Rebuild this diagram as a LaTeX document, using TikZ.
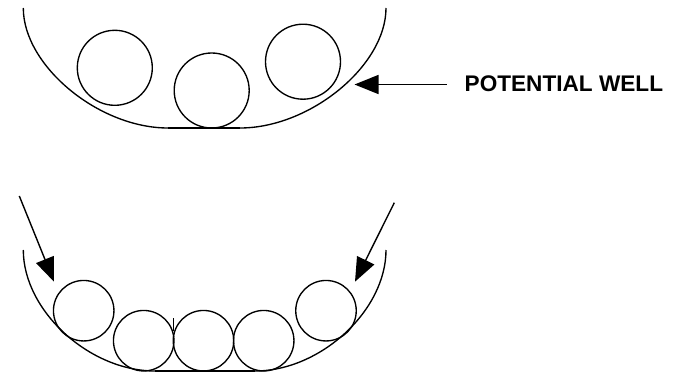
\documentclass[tikz,border=0pt]{standalone}
\usepackage{fontspec}
\setmainfont{Liberation Sans}
\usetikzlibrary{arrows.meta}
\begin{document}
\begin{tikzpicture}[x=1pt,y=-1pt,
  ball/.style={circle,draw,line width=1.35pt,inner sep=0pt,minimum size=#1},
  ball/.default=75pt,
  well/.style={line width=1.35pt},
  floor/.style={line width=1.6pt},
  pointer/.style={line width=1.4pt,-{Triangle[length=24pt,width=19pt]}}]
\useasboundingbox (0,0) rectangle (683,372);
% top well
\draw[well] (23.3,8) .. controls (23.3,65.6) and (98.5,128) .. (168,128)
  -- (240,128) .. controls (310.1,128) and (386,65.6) .. (386,8);
\draw[floor] (168,127.7) -- (240,127.7);
\node[ball] (t1) at (114.8,67.8) {};
\node[ball] (t2) at (211.7,90.5) {};
\node[ball] (t3) at (303,61.7) {};
% label and arrow
\node[anchor=base west,inner sep=0pt,font=\bfseries\fontsize{22.6pt}{24pt}\selectfont] (lbl) at (464.5,91.7) {POTENTIAL WELL};
\coordinate (lstart) at (446.7,84.5);
\coordinate (ltip) at (354.5,84.5);
\draw[pointer] (lstart) -- (ltip);
% bottom well
\draw[well] (23.3,250) .. controls (23.3,310.5) and (89.1,371) .. (155,371)
  -- (255,371) .. controls (320.5,371) and (386,310.5) .. (386,250);
\draw[floor] (155,370.7) -- (255,370.7);
\node[ball=60.5pt] (b1) at (83.7,310.7) {};
\node[ball=60.5pt] (b2) at (143.7,340.7) {};
\node[ball=60.5pt] (b3) at (203.5,340.7) {};
\node[ball=60.5pt] (b4) at (263.7,340.7) {};
\node[ball=60.5pt] (b5) at (326,310.7) {};
\draw[line width=0.6pt] (173.5,318.3) -- (173.5,330.7);
% pressing arrows
\coordinate (as) at (19.3,196);
\coordinate (at) at (54,281.7);
\coordinate (bs) at (394.3,202.7);
\coordinate (bt) at (355,281.7);
\draw[pointer] (as) -- (at);
\draw[pointer] (bs) -- (bt);
\end{tikzpicture}
\end{document}
